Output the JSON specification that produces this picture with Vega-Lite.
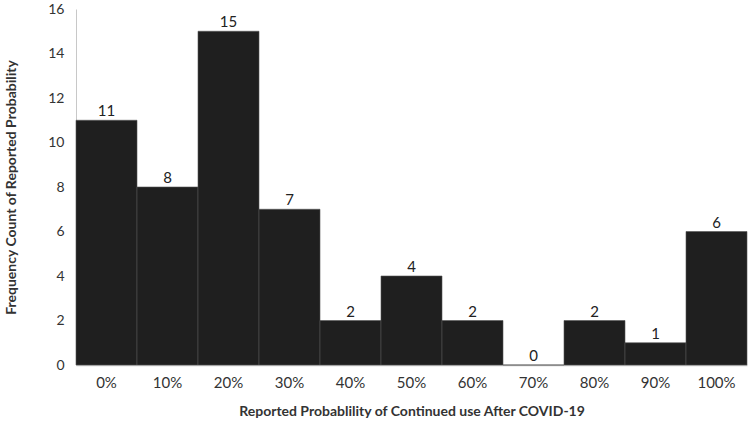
{
  "$schema": "https://vega.github.io/schema/vega-lite/v6.json",
  "width": 671,
  "height": 356,
  "autosize": {"type": "none"},
  "padding": {"left": 76, "top": 9, "right": 2, "bottom": 63},
  "background": "white",
  "config": {"view": {"stroke": null}, "font": "Lato"},
  "data": {"values": [
    {"p": "0%", "n": 11}, {"p": "10%", "n": 8}, {"p": "20%", "n": 15},
    {"p": "30%", "n": 7}, {"p": "40%", "n": 2}, {"p": "50%", "n": 4},
    {"p": "60%", "n": 2}, {"p": "70%", "n": 0}, {"p": "80%", "n": 2},
    {"p": "90%", "n": 1}, {"p": "100%", "n": 6}
  ]},
  "encoding": {
    "x": {"field": "p", "type": "ordinal", "sort": null,
      "scale": {"paddingInner": 0, "paddingOuter": 0},
      "axis": {"title": "Reported Probablility of Continued use After COVID-19", "labelAngle": 0,
        "labelFontSize": 15, "labelColor": "#333", "labelPadding": 10, "ticks": false,
        "domainColor": "#c8c8c8", "domainWidth": 1.5,
        "titleFontSize": 14, "titleFontWeight": "bold", "titleColor": "#333", "titlePadding": 14}},
    "y": {"field": "n", "type": "quantitative",
      "scale": {"domain": [0, 16]},
      "axis": {"title": "Frequency Count of Reported Probability", "values": [0,2,4,6,8,10,12,14,16],
        "grid": false, "ticks": false, "labelFontSize": 14, "labelColor": "#333", "labelPadding": 12,
        "domainColor": "#c8c8c8", "domainWidth": 1,
        "titleFontSize": 14, "titleFontWeight": "bold", "titleColor": "#333", "titlePadding": 29}}
  },
  "layer": [
    {"mark": {"type": "bar", "color": "#1f1f1f", "stroke": "#555", "strokeWidth": 0.6}},
    {"mark": {"type": "text", "dy": -9, "fontSize": 15, "color": "#222"},
     "encoding": {"text": {"field": "n", "type": "quantitative"}}}
  ]
}
